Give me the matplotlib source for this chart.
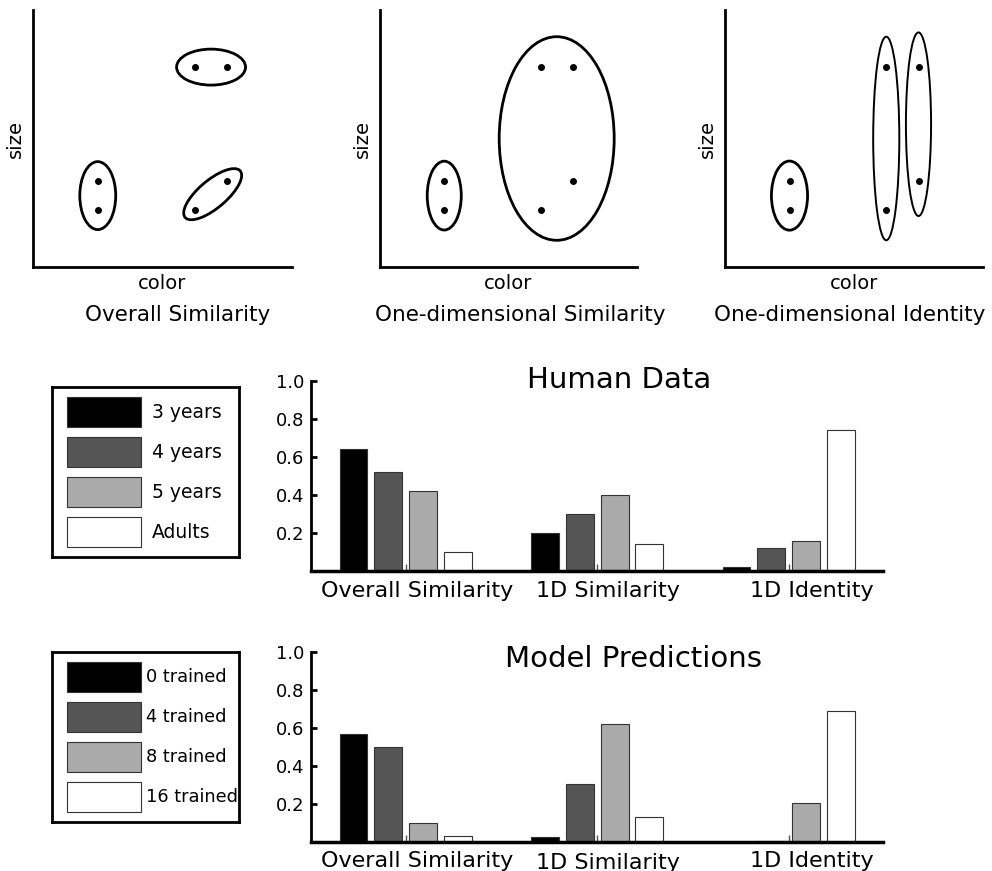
import matplotlib
matplotlib.use("Agg")
import matplotlib.pyplot as plt
from matplotlib.patches import Ellipse, Rectangle

# Points in the color/size space (same six objects in every panel)
point_x = [2, 2, 5, 6, 5, 6]
point_y = [2, 3, 7, 7, 2, 3]
panel_titles = ["Overall Similarity", "One-dimensional Similarity", "One-dimensional Identity"]

# Bar chart data
groups = ["Overall Similarity", "1D Similarity", "1D Identity"]
human_labels = ["3 years", "4 years", "5 years", "Adults"]
human_3y = [0.64, 0.20, 0.02]
human_4y = [0.52, 0.30, 0.12]
human_5y = [0.42, 0.40, 0.16]
human_adults = [0.10, 0.14, 0.74]
model_labels = ["0 trained", "4 trained", "8 trained", "16 trained"]
model_0 = [0.57, 0.025, 0.0]
model_4 = [0.50, 0.305, 0.005]
model_8 = [0.10, 0.62, 0.205]
model_16 = [0.03, 0.13, 0.69]
bar_colors = ["black", "#555555", "#aaaaaa", "white"]

W, H = 992, 871
fig = plt.figure(figsize=(W / 100, H / 100), dpi=100)


def px_axes(left, top, right, bottom):
    return fig.add_axes([left / W, 1 - bottom / H, (right - left) / W, (bottom - top) / H])


# ---- top row: groupings in color/size space ----
# (center, width, height, angle, linewidth) for each grouping ellipse
panel_ellipses = [
    [((2, 2.5), 1.11, 2.38, 0, 2), ((5.5, 7), 2.13, 1.26, 0, 2), ((5.55, 2.55), 2.36, 0.92, 45, 2)],
    [((2, 2.5), 1.06, 2.41, 0, 2), ((5.5, 4.5), 3.58, 7.13, 0, 2)],
    [((2, 2.5), 1.12, 2.42, 0, 2), ((5, 4.5), 0.81, 7.13, 0, 1.4), ((6, 5), 0.78, 6.43, 0, 1.4)],
]
panel_px = [(33, 292), (380, 637), (725, 983)]
title_x = [178, 520, 850]

for i, (l, r) in enumerate(panel_px):
    ax = px_axes(l, 10, r, 267)
    ax.plot(point_x, point_y, "o", color="black", ms=4)
    for c, w, h, ang, lw in panel_ellipses[i]:
        ax.add_patch(Ellipse(c, w, h, angle=ang, fill=False, lw=lw, ec="black"))
    ax.set_xlim(0, 8)
    ax.set_ylim(0, 9)
    ax.set_xticks([])
    ax.set_yticks([])
    for s in ["top", "right"]:
        ax.spines[s].set_visible(False)
    for s in ["left", "bottom"]:
        ax.spines[s].set_linewidth(2)
    ax.set_xlabel("color", fontsize=14, labelpad=5)
    ax.set_ylabel("size", fontsize=14, labelpad=6)
    fig.text(title_x[i] / W, 1 - 315 / H, panel_titles[i], fontsize=15.5,
             ha="center", va="center")


# ---- legends ----
def draw_legend(top, bottom, labels, fontsize, text_x):
    lax = px_axes(52, top, 239, bottom)
    n = len(labels)
    lax.set_xlim(0, 1)
    lax.set_ylim(n + 0.25, 0)
    for i, lab in enumerate(labels):
        lax.add_patch(Rectangle((0.08, i + 0.25), 0.395, 0.75, fc=bar_colors[i],
                                ec="#333333", lw=0.8))
        lax.text(text_x, i + 0.625, lab, fontsize=fontsize, va="center", ha="left")
    lax.set_xticks([])
    lax.set_yticks([])
    for s in lax.spines.values():
        s.set_linewidth(2)


draw_legend(387, 557, human_labels, 13.5, 0.535)
draw_legend(652, 822, model_labels, 12.8, 0.5)

# ---- bar charts ----
group_pos = [0, 5.5, 11]
label_shift = [0.32, 0.3, 0.66]


def draw_bars(top, bottom, series, title, title_x, title_y, label_y):
    ax = px_axes(311, top, 883, bottom)
    for i, vals in enumerate(series):
        xs = [g + (i - 1.5) for g in group_pos]
        ax.bar(xs, vals, width=0.8, color=bar_colors[i], edgecolor="#333333", lw=0.8)
    ax.set_xlim(-2.72, 13.71)
    ax.set_ylim(0, 1.0)
    ax.set_yticks([0.2, 0.4, 0.6, 0.8, 1.0])
    ax.set_yticklabels(["0.2", "0.4", "0.6", "0.8", "1.0"], fontsize=13)
    ax.tick_params(axis="y", direction="in", length=4, width=2, pad=5)
    ax.set_xticks(group_pos)
    ax.set_xticklabels([])
    ax.tick_params(axis="x", direction="in", length=5, width=1, color="#555555")
    for s in ["top", "right"]:
        ax.spines[s].set_visible(False)
    ax.spines["left"].set_linewidth(2)
    ax.spines["bottom"].set_linewidth(2.5)
    for g, name, sh, ly in zip(group_pos, groups, label_shift, label_y):
        ax.text(g + sh, ly, name, fontsize=16, ha="center", va="top",
                transform=ax.get_xaxis_transform())
    ax.text(title_x, title_y, title, fontsize=21, ha="center", va="baseline",
            transform=ax.transAxes)


draw_bars(381, 571, [human_3y, human_4y, human_5y, human_adults], "Human Data",
          0.538, 0.963, [-0.05, -0.05, -0.05])
draw_bars(652, 842, [model_0, model_4, model_8, model_16], "Model Predictions",
          0.563, 0.921, [-0.045, -0.056, -0.045])

fig.savefig("out.png", dpi=100)
